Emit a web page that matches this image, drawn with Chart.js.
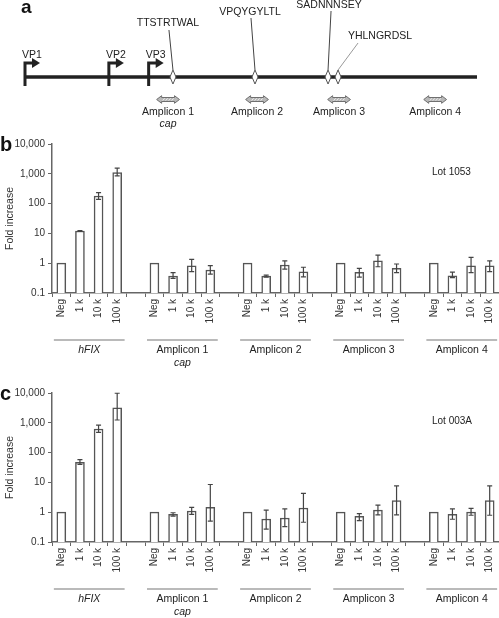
<!DOCTYPE html>
<html>
<head>
<meta charset="utf-8">
<script src="https://cdn.jsdelivr.net/npm/chart.js@4.4.1/dist/chart.umd.min.js"></script>
<style>
    body { margin: 0; background: #fff; width: 499px; height: 618px; overflow: hidden; position: relative; }
    canvas { position: absolute; left: 0; }
</style>
</head>
<body>
<canvas id="mapChart" width="499" height="135" style="top:0"></canvas>
<canvas id="lot1053Chart" width="499" height="250" style="top:130px"></canvas>
<canvas id="lot003AChart" width="499" height="238" style="top:380px"></canvas>
<script>
// ---- data ----
const doses = ['Neg', '1 k', '10 k', '100 k'];
const targets = ['hFIX', 'Amplicon 1', 'Amplicon 2', 'Amplicon 3', 'Amplicon 4'];
const targetSub = ['', 'cap', '', '', ''];
const yTicks = [0.1, 1, 10, 100, 1000, 10000];

// fold increase, target by target (Neg, 1 k, 10 k, 100 k)
const lot1053 = [1, 12, 180, 1090,  1, 0.37, 0.81, 0.59,  1, 0.37, 0.87, 0.51,  1, 0.49, 1.2, 0.67,  1, 0.38, 0.82, 0.81];
const lot1053Low = [null, 11.7, 139, 850,  null, 0.31, 0.52, 0.43,  null, 0.34, 0.63, 0.35,  null, 0.34, 0.76, 0.48,  null, 0.33, 0.48, 0.52];
const lot1053High = [null, 12.4, 233, 1560,  null, 0.48, 1.35, 0.83,  null, 0.4, 1.2, 0.73,  null, 0.67, 1.88, 0.94,  null, 0.5, 1.57, 1.2];

const lot003A = [1, 47, 620, 3200,  1, 0.85, 1.1, 1.45,  1, 0.59, 0.64, 1.38,  1, 0.73, 1.18, 2.44,  1, 0.85, 1.01, 2.44];
const lot003ALow = [null, 40, 480, 1240,  null, 0.74, 0.85, 0.5,  null, 0.27, 0.33, 0.46,  null, 0.52, 0.81, 0.81,  null, 0.58, 0.79, 0.79];
const lot003AHigh = [null, 58, 830, 9800,  null, 0.96, 1.45, 8.5,  null, 1.18, 1.29, 4.3,  null, 0.89, 1.74, 7.6,  null, 1.29, 1.35, 7.6];

// schematic of the cap gene (positions in nt)
const capLength = 2220;
const vpNames = ['VP1', 'VP2', 'VP3'];
const vpStarts = [0, 411, 606];
const epitopes = ['TTSTRTWAL', 'VPQYGYLTL', 'SADNNNSEY', 'YHLNGRDSL'];
const epitopePos = [730, 1132, 1490, 1539];
const ampliconPos = [706, 1142, 1544, 2015];
const ampliconLen = 112;

Chart.defaults.font.family = '"Liberation Sans", Arial, Helvetica, sans-serif';
Chart.defaults.color = '#333';

// categories: 4 doses per target, blank slot between targets
const labels = [];
targets.forEach((t, g) => {
    doses.forEach(d => labels.push(d));
    if (g < targets.length - 1) labels.push('');
});

function spread(arr) {
    const out = [];
    targets.forEach((t, g) => {
        for (let k = 0; k < doses.length; k++) out.push(arr[g * doses.length + k]);
        if (g < targets.length - 1) out.push(null);
    });
    return out;
}

// ---- panel a ----
const epiLayout = [
    { dx: -5, y: 23, lx: -4, ly: 30, col: '#444' },
    { dx: -5, y: 12, lx: -4, ly: 18, col: '#444' },
    { dx: 1, y: 5, lx: 3, ly: 11, col: '#444' },
    { dx: 42, y: 36, lx: 20, ly: 43, col: '#999' }
];

const capMap = {
    id: 'capMap',
    afterDraw(chart) {
        const ctx = chart.ctx;
        const x = chart.scales.x;
        const lineY = 77;
        ctx.save();

        ctx.fillStyle = '#111';
        ctx.font = 'bold 19px "Liberation Sans", Arial';
        ctx.textAlign = 'left';
        ctx.textBaseline = 'alphabetic';
        ctx.fillText('a', 21, 13);

        // backbone
        ctx.strokeStyle = '#222';
        ctx.lineWidth = 3.5;
        ctx.beginPath();
        ctx.moveTo(x.getPixelForValue(0), lineY);
        ctx.lineTo(x.getPixelForValue(capLength), lineY);
        ctx.stroke();

        // start sites
        ctx.font = '10.5px "Liberation Sans", Arial';
        ctx.textAlign = 'center';
        ctx.textBaseline = 'middle';
        vpStarts.forEach((p, i) => {
            const px = x.getPixelForValue(p) + 1;
            ctx.strokeStyle = '#222';
            ctx.fillStyle = '#222';
            ctx.lineWidth = 3;
            ctx.beginPath();
            ctx.moveTo(px, 86);
            ctx.lineTo(px, 63);
            ctx.lineTo(px + 8, 63);
            ctx.stroke();
            ctx.beginPath();
            ctx.moveTo(px + 7, 58);
            ctx.lineTo(px + 15, 63);
            ctx.lineTo(px + 7, 68);
            ctx.closePath();
            ctx.fill();
            ctx.fillText(vpNames[i], px + 7, 55);
        });

        // epitopes
        epitopePos.forEach((p, i) => {
            const px = x.getPixelForValue(p);
            const l = epiLayout[i];
            ctx.strokeStyle = l.col;
            ctx.lineWidth = 1;
            ctx.beginPath();
            ctx.moveTo(px + l.lx, l.ly);
            ctx.lineTo(px, 70);
            ctx.stroke();
            ctx.fillStyle = '#222';
            ctx.fillText(epitopes[i], px + l.dx, l.y);
        });
        epitopePos.forEach(p => {
            const px = x.getPixelForValue(p);
            ctx.fillStyle = '#fff';
            ctx.strokeStyle = '#555';
            ctx.lineWidth = 1;
            ctx.beginPath();
            ctx.moveTo(px, lineY - 7);
            ctx.lineTo(px + 3, lineY);
            ctx.lineTo(px, lineY + 7);
            ctx.lineTo(px - 3, lineY);
            ctx.closePath();
            ctx.fill();
            ctx.stroke();
        });

        // amplicons
        ampliconPos.forEach((p, i) => {
            const x0 = x.getPixelForValue(p - ampliconLen / 2);
            const x1 = x.getPixelForValue(p + ampliconLen / 2);
            const cy = 99.5;
            ctx.fillStyle = '#b8b8b8';
            ctx.strokeStyle = '#6f6f6f';
            ctx.lineWidth = 1;
            ctx.beginPath();
            ctx.moveTo(x0, cy);
            ctx.lineTo(x0 + 5, cy - 3.8);
            ctx.lineTo(x0 + 5, cy - 2);
            ctx.lineTo(x1 - 5, cy - 2);
            ctx.lineTo(x1 - 5, cy - 3.8);
            ctx.lineTo(x1, cy);
            ctx.lineTo(x1 - 5, cy + 3.8);
            ctx.lineTo(x1 - 5, cy + 2);
            ctx.lineTo(x0 + 5, cy + 2);
            ctx.lineTo(x0 + 5, cy + 3.8);
            ctx.closePath();
            ctx.fill();
            ctx.stroke();
            ctx.strokeStyle = '#eeeeee';
            for (let hx = x0 + 6; hx < x1 - 6; hx += 3) {
                ctx.beginPath();
                ctx.moveTo(hx, cy + 1.2);
                ctx.lineTo(hx + 2, cy - 1.2);
                ctx.stroke();
            }
            const cx = (x0 + x1) / 2;
            ctx.fillStyle = '#222';
            ctx.font = '10.5px "Liberation Sans", Arial';
            ctx.fillText(targets[i + 1], cx, 112);
            if (targetSub[i + 1]) {
                ctx.font = 'italic 10.5px "Liberation Sans", Arial';
                ctx.fillText(targetSub[i + 1], cx, 124);
            }
        });
        ctx.restore();
    }
};

new Chart(document.getElementById('mapChart'), {
    type: 'scatter',
    data: { datasets: [] },
    options: {
        responsive: false,
        animation: false,
        layout: { padding: { left: 24, right: 22, top: 0, bottom: 0 } },
        plugins: { legend: { display: false }, tooltip: { enabled: false } },
        scales: {
            x: { type: 'linear', min: 0, max: capLength, display: false },
            y: { min: 0, max: 1, display: false }
        }
    },
    plugins: [capMap]
});

// ---- panels b and c ----
const errorBars = {
    id: 'errorBars',
    afterDatasetsDraw(chart, args, opts) {
        const ctx = chart.ctx;
        const y = chart.scales.y;
        const meta = chart.getDatasetMeta(0);
        ctx.save();
        ctx.strokeStyle = '#444';
        ctx.lineWidth = 1.2;
        opts.low.forEach((lo, i) => {
            const hi = opts.high[i];
            if (lo == null || hi == null) return;
            const bx = meta.data[i].x;
            const y0 = y.getPixelForValue(lo);
            const y1 = y.getPixelForValue(hi);
            ctx.beginPath();
            ctx.moveTo(bx, y0);
            ctx.lineTo(bx, y1);
            ctx.moveTo(bx - 2.5, y0);
            ctx.lineTo(bx + 2.5, y0);
            ctx.moveTo(bx - 2.5, y1);
            ctx.lineTo(bx + 2.5, y1);
            ctx.stroke();
        });
        ctx.restore();
    }
};

const panelText = {
    id: 'panelText',
    afterDraw(chart, args, opts) {
        const ctx = chart.ctx;
        const area = chart.chartArea;
        const x = chart.scales.x;
        ctx.save();
        ctx.fillStyle = '#111';
        ctx.font = 'bold 20px "Liberation Sans", Arial';
        ctx.textAlign = 'left';
        ctx.textBaseline = 'alphabetic';
        ctx.fillText(opts.letter, 0, area.top + 7);

        ctx.fillStyle = '#222';
        ctx.font = '10px "Liberation Sans", Arial';
        ctx.textBaseline = 'middle';
        ctx.fillText(opts.lot, 432, area.top + 28);

        // target brackets below the dose labels
        const catW = x.getPixelForValue(1) - x.getPixelForValue(0);
        ctx.textAlign = 'center';
        targets.forEach((t, g) => {
            const first = g * (doses.length + 1);
            const cx = (x.getPixelForValue(first) + x.getPixelForValue(first + doses.length - 1)) / 2;
            ctx.strokeStyle = '#777';
            ctx.lineWidth = 1.2;
            ctx.beginPath();
            ctx.moveTo(cx - 1.9 * catW, area.bottom + 47);
            ctx.lineTo(cx + 1.9 * catW, area.bottom + 47);
            ctx.stroke();
            ctx.fillStyle = '#222';
            ctx.font = (t === 'hFIX' ? 'italic ' : '') + '10.5px "Liberation Sans", Arial';
            ctx.fillText(t, cx, area.bottom + 57);
            if (targetSub[g]) {
                ctx.font = 'italic 10.5px "Liberation Sans", Arial';
                ctx.fillText(targetSub[g], cx, area.bottom + 70);
            }
        });
        ctx.restore();
    }
};

function makeLotChart(id, values, low, high, lot, letter, padTop, axisH) {
    return new Chart(document.getElementById(id), {
        type: 'bar',
        data: {
            labels: labels,
            datasets: [{
                data: spread(values),
                backgroundColor: '#fff',
                borderColor: '#555',
                borderWidth: 1.5,
                barThickness: 9
            }]
        },
        options: {
            responsive: false,
            animation: false,
            layout: { padding: { left: 0, right: 0, top: padTop, bottom: 0 } },
            plugins: {
                legend: { display: false },
                tooltip: { enabled: false },
                errorBars: { low: spread(low), high: spread(high) },
                panelText: { lot: lot, letter: letter }
            },
            scales: {
                x: {
                    afterFit: s => { s.height = axisH; s.paddingRight = 0; s.paddingLeft = 0; },
                    ticks: {
                        autoSkip: false,
                        minRotation: 90,
                        maxRotation: 90,
                        padding: 2,
                        color: '#333',
                        font: { size: 10 }
                    },
                    grid: { offset: true, drawOnChartArea: false, tickLength: 4, color: '#666', lineWidth: 1 },
                    border: { color: '#666', width: 1.5 }
                },
                y: {
                    type: 'logarithmic',
                    min: 0.1,
                    max: 10000,
                    afterBuildTicks: s => { s.ticks = yTicks.map(v => ({ value: v })); },
                    afterFit: s => { s.width = 52; },
                    ticks: {
                        padding: 3,
                        color: '#333',
                        font: { size: 10 },
                        callback: v => v.toLocaleString('en-US')
                    },
                    grid: { drawOnChartArea: false, tickLength: 4, color: '#666', lineWidth: 1 },
                    border: { color: '#666', width: 1.5 },
                    title: {
                        display: true,
                        text: 'Fold increase',
                        color: '#333',
                        font: { size: 10.5 },
                        padding: { top: 4, bottom: 0 }
                    }
                }
            }
        },
        plugins: [errorBars, panelText]
    });
}

makeLotChart('lot1053Chart', lot1053, lot1053Low, lot1053High, 'Lot 1053', 'b', 14, 87);
makeLotChart('lot003AChart', lot003A, lot003ALow, lot003AHigh, 'Lot 003A', 'c', 13, 76);
</script>
</body>
</html>
